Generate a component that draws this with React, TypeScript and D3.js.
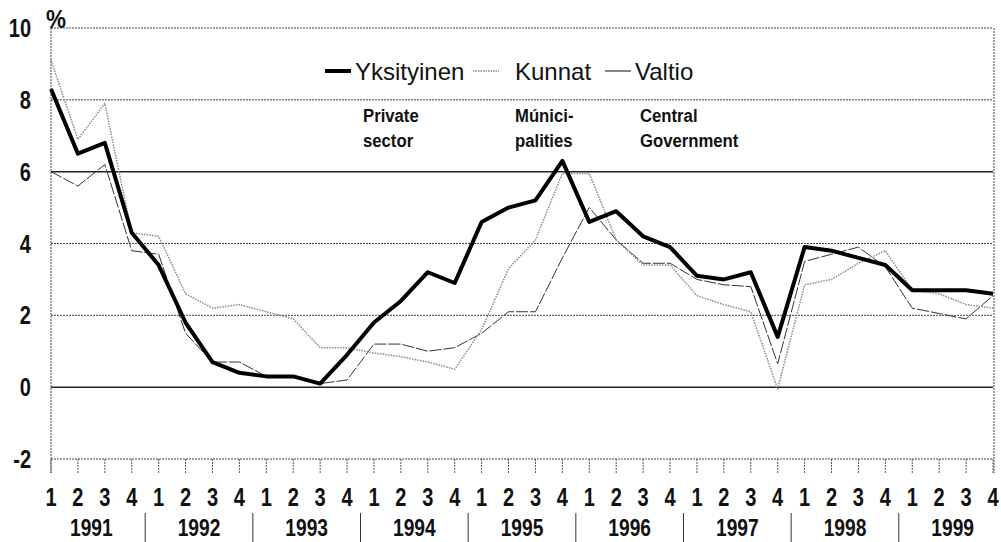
import React from "react";
import * as d3 from "d3";

const years = ["1991", "1992", "1993", "1994", "1995", "1996", "1997", "1998", "1999"];
const quarterLabels = ["1", "2", "3", "4"];
const yTicks = [-2, 0, 2, 4, 6, 8, 10];
const solidGrid = [0, 6];

const yksityinen = [8.3, 6.5, 6.8, 4.3, 3.4, 1.8, 0.7, 0.4, 0.3, 0.3, 0.1, 0.9, 1.8, 2.4, 3.2, 2.9, 4.6, 5.0, 5.2, 6.3, 4.6, 4.9, 4.2, 3.9, 3.1, 3.0, 3.2, 1.4, 3.9, 3.8, 3.6, 3.4, 2.7, 2.7, 2.7, 2.6];
const kunnat = [9.1, 6.9, 7.9, 4.3, 4.2, 2.6, 2.2, 2.3, 2.1, 1.9, 1.1, 1.1, 0.95, 0.85, 0.7, 0.5, 1.6, 3.3, 4.1, 5.95, 5.95, 4.1, 3.4, 3.4, 2.55, 2.3, 2.1, -0.05, 2.85, 3.0, 3.45, 3.8, 2.7, 2.6, 2.3, 2.2];
const valtio = [6.0, 5.6, 6.2, 3.8, 3.7, 1.5, 0.7, 0.7, 0.3, 0.3, 0.1, 0.2, 1.2, 1.2, 1.0, 1.1, 1.5, 2.1, 2.1, 3.6, 5.0, 4.1, 3.45, 3.45, 3.0, 2.85, 2.8, 0.65, 3.5, 3.7, 3.9, 3.35, 2.2, 2.05, 1.9, 2.55];

const legendNames = ["Yksityinen", "Kunnat", "Valtio"];
const annotations = [
  ["Private", "sector"],
  ["Múnici-", "palities"],
  ["Central", "Government"],
];

const FONT = "'Liberation Sans', Arial, sans-serif";

function NText(props: {
  x: number;
  y: number;
  size: number;
  sx?: number;
  bold?: boolean;
  anchor?: string;
  children: React.ReactNode;
}) {
  const { x, y, size, sx = 0.8, bold = true, anchor = "start", children } = props;
  return (
    <text
      transform={`translate(${x},${y}) scale(${sx},1)`}
      textAnchor={anchor}
      fontFamily={FONT}
      fontWeight={bold ? "bold" : "normal"}
      fontSize={size}
      fill="#111"
    >
      {children}
    </text>
  );
}

export default function App() {
  const W = 1001, H = 542;
  const n = yksityinen.length;
  const x = d3.scaleLinear().domain([0, n - 1]).range([51, 993]);
  const y = d3.scaleLinear().domain([-2, 10]).range([459, 28]);
  const line = d3.line<number>().x((_, i) => x(i)).y((d) => y(d));

  const styles = [
    { stroke: "#000", width: 4, dash: "none" },
    { stroke: "#8a8a8a", width: 1.5, dash: "1.5,1.2" },
    { stroke: "#333", width: 1, dash: "12,2" },
  ];
  const series = [yksityinen, kunnat, valtio];

  const legendLineX = [325, 473, 605];
  const legendTextX = [355, 515, 635];
  const annX = [363, 515, 640];

  return (
    <svg width={W} height={H} style={{ position: "absolute", left: 0, top: 0, background: "#fff" }}>
      <rect x={0} y={0} width={W} height={H} fill="#fff" />
      {/* grid */}
      {yTicks.map((t) => (
        <line
          key={"g" + t}
          x1={x(0)}
          x2={x(n - 1)}
          y1={y(t)}
          y2={y(t)}
          stroke={solidGrid.includes(t) ? "#222" : "#444"}
          strokeWidth={solidGrid.includes(t) ? 1.5 : 1}
          strokeDasharray={solidGrid.includes(t) ? "none" : "2,1"}
        />
      ))}
      {/* left axis and right border */}
      <line x1={x(0)} x2={x(0)} y1={y(10)} y2={473} stroke="#444" strokeWidth={1} strokeDasharray="2,1" />
      <line x1={x(n - 1) + 1} x2={x(n - 1) + 1} y1={y(10)} y2={473} stroke="#444" strokeWidth={1} strokeDasharray="2,1" />
      {/* quarter ticks */}
      {d3.range(n).map((i) => (
        <line key={"t" + i} x1={x(i)} x2={x(i)} y1={y(-2)} y2={473} stroke="#555" strokeWidth={1} strokeDasharray="2,1" />
      ))}
      {/* y labels */}
      {yTicks.map((t) => (
        <NText key={"yl" + t} x={31} y={y(t) + 9} size={25} anchor="end">
          {String(t)}
        </NText>
      ))}
      <NText x={46} y={28} size={25} sx={0.9} bold={true}>%</NText>
      {/* x labels */}
      {d3.range(n).map((i) => (
        <NText key={"xl" + i} x={x(i)} y={506} size={25} anchor="middle">
          {quarterLabels[i % 4]}
        </NText>
      ))}
      {years.map((yr, k) => (
        <NText key={"yr" + yr} x={(x(k * 4) + x(k * 4 + 3)) / 2} y={536} size={24} anchor="middle">
          {yr}
        </NText>
      ))}
      {years.slice(1).map((yr, k) => {
        const sx = (x(k * 4 + 3) + x(k * 4 + 4)) / 2;
        return <line key={"sep" + yr} x1={sx} x2={sx} y1={513} y2={542} stroke="#333" strokeWidth={1} />;
      })}
      {/* series */}
      {series.map((s, k) => (
        <path
          key={"s" + k}
          d={line(s) || ""}
          fill="none"
          stroke={styles[k].stroke}
          strokeWidth={styles[k].width}
          strokeDasharray={styles[k].dash}
          strokeLinejoin="round"
        />
      )).reverse()}
      {/* legend */}
      {legendNames.map((nm, k) => (
        <g key={"lg" + nm}>
          <line
            x1={legendLineX[k]}
            x2={legendLineX[k] + 26}
            y1={71}
            y2={71}
            stroke={styles[k].stroke}
            strokeWidth={k === 0 ? 4 : k === 1 ? 1.5 : 1.2}
            strokeDasharray={k === 1 ? "1.5,1" : "none"}
          />
          <NText x={legendTextX[k]} y={80} size={24} sx={1} bold={false}>
            {nm}
          </NText>
        </g>
      ))}
      {annotations.map((lines, k) =>
        lines.map((l, j) => (
          <NText key={"an" + k + "-" + j} x={annX[k]} y={122 + j * 25} size={19} sx={0.88}>
            {l}
          </NText>
        ))
      )}
    </svg>
  );
}
